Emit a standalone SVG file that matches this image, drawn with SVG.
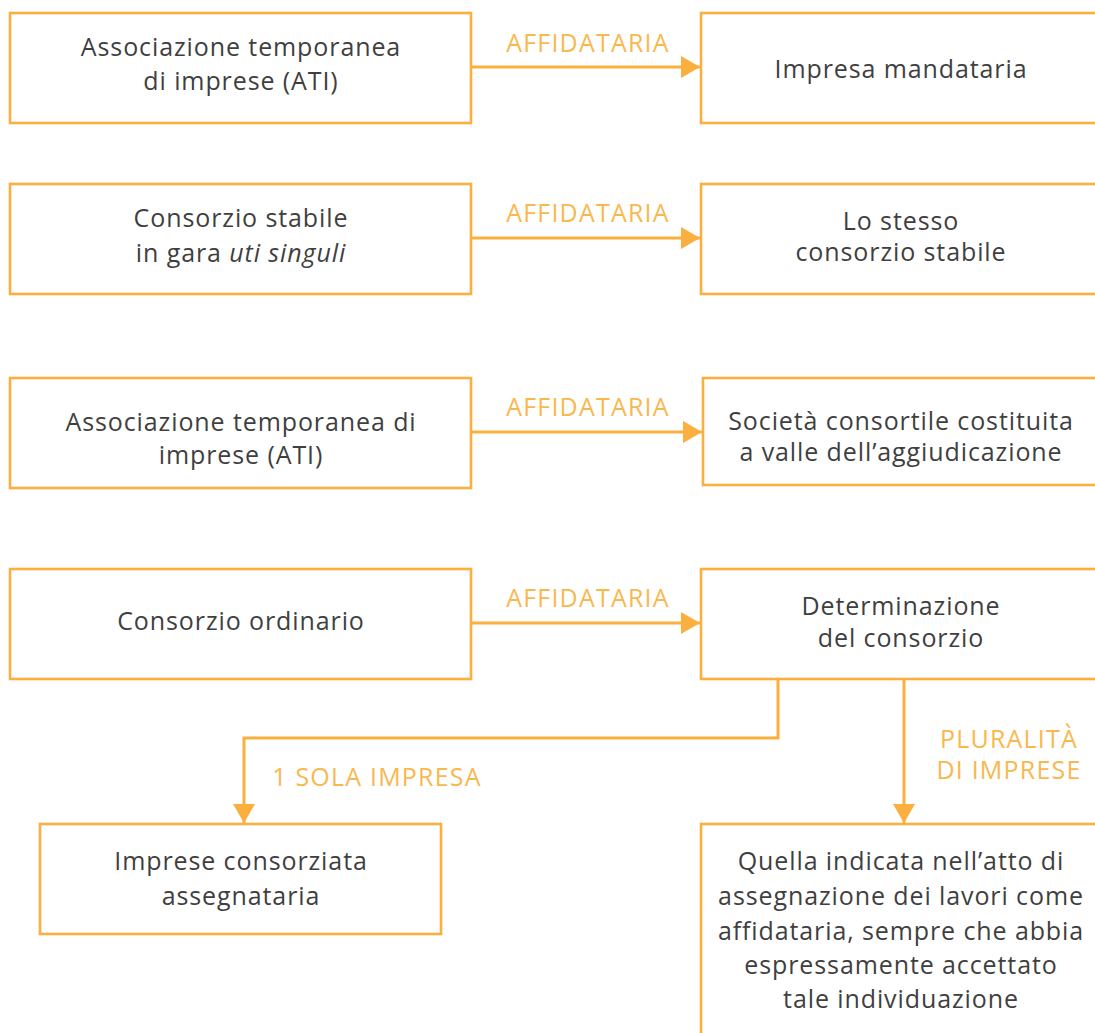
<svg xmlns="http://www.w3.org/2000/svg" width="1095" height="1033" viewBox="0 0 1095 1033">
<defs>
<style>
.box{fill:#ffffff;stroke:#FBAF3F;stroke-width:2.6}
.t{font-family:"Open Sans","Lato","Liberation Sans",sans-serif;font-size:25px;letter-spacing:0.9px;fill:#3f3f3f;text-anchor:middle}
.lab{font-family:"Open Sans","Lato","Liberation Sans",sans-serif;font-size:25px;letter-spacing:1.2px;fill:#F9B84E;text-anchor:middle}
.ln{fill:none;stroke:#FBAF3F;stroke-width:3}
</style>
<marker id="ah" viewBox="0 0 19 22" refX="19" refY="11" markerWidth="19" markerHeight="22" markerUnits="userSpaceOnUse" orient="auto">
<path d="M0,0 L19,11 L0,22 Z" fill="#FBAF3F"/>
</marker>
</defs>
<rect width="1095" height="1033" fill="#ffffff"/>
<g id="connectors">
<line class="ln" x1="472" y1="67" x2="700" y2="67" marker-end="url(#ah)"/>
<line class="ln" x1="472" y1="238" x2="700" y2="238" marker-end="url(#ah)"/>
<line class="ln" x1="472" y1="432" x2="702" y2="432" marker-end="url(#ah)"/>
<line class="ln" x1="472" y1="623" x2="700" y2="623" marker-end="url(#ah)"/>
<polyline class="ln" points="778,679 778,738 244,738 244,823" marker-end="url(#ah)"/>
<line class="ln" x1="904" y1="679" x2="904" y2="823" marker-end="url(#ah)"/>
<text class="lab" x="588" y="52">AFFIDATARIA</text>
<text class="lab" x="588" y="222">AFFIDATARIA</text>
<text class="lab" x="588" y="416">AFFIDATARIA</text>
<text class="lab" x="588" y="607">AFFIDATARIA</text>
<text class="lab" x="377" y="786">1 SOLA IMPRESA</text>
<text class="lab" x="1009" y="748">PLURALITÀ</text>
<text class="lab" x="1009" y="779">DI IMPRESE</text>
</g>
<g id="n1"><rect class="box" x="10" y="13" width="461" height="110"/>
<text class="t" x="241" y="56">Associazione temporanea</text>
<text class="t" x="241" y="90">di imprese (ATI)</text></g>
<g id="n2"><rect class="box" x="701" y="13" width="400" height="110"/>
<text class="t" x="901" y="78">Impresa mandataria</text></g>
<g id="n3"><rect class="box" x="10" y="184" width="461" height="110"/>
<text class="t" x="241" y="227">Consorzio stabile</text>
<text class="t" x="241" y="262">in gara <tspan font-style="italic">uti singuli</tspan></text></g>
<g id="n4"><rect class="box" x="701" y="184" width="400" height="110"/>
<text class="t" x="901" y="230">Lo stesso</text>
<text class="t" x="901" y="261">consorzio stabile</text></g>
<g id="n5"><rect class="box" x="10" y="378" width="461" height="110"/>
<text class="t" x="241" y="431">Associazione temporanea di</text>
<text class="t" x="241" y="464">imprese (ATI)</text></g>
<g id="n6"><rect class="box" x="703" y="378" width="400" height="107"/>
<text class="t" x="901" y="430">Società consortile costituita</text>
<text class="t" x="901" y="461">a valle dell’aggiudicazione</text></g>
<g id="n7"><rect class="box" x="10" y="569" width="461" height="110"/>
<text class="t" x="241" y="630">Consorzio ordinario</text></g>
<g id="n8"><rect class="box" x="701" y="569" width="400" height="110"/>
<text class="t" x="901" y="615">Determinazione</text>
<text class="t" x="901" y="647">del consorzio</text></g>
<g id="n9"><rect class="box" x="40" y="824" width="401" height="110"/>
<text class="t" x="241" y="870">Imprese consorziata</text>
<text class="t" x="241" y="905">assegnataria</text></g>
<g id="n10"><rect class="box" x="701" y="824" width="400" height="220"/>
<text class="t" x="901" y="870">Quella indicata nell’atto di</text>
<text class="t" x="901" y="905">assegnazione dei lavori come</text>
<text class="t" x="901" y="940">affidataria, sempre che abbia</text>
<text class="t" x="901" y="974">espressamente accettato</text>
<text class="t" x="901" y="1008">tale individuazione</text></g>
</svg>
